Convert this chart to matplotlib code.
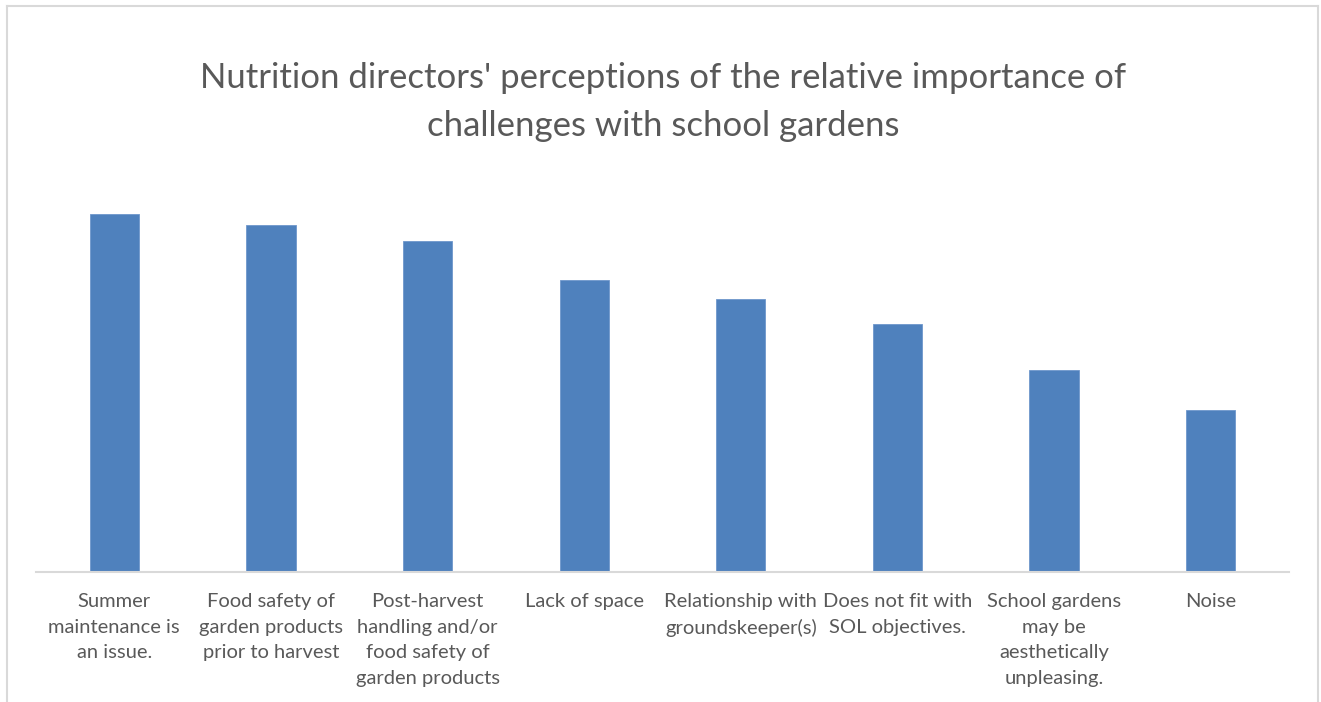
import matplotlib.pyplot as plt
from matplotlib.lines import Line2D

categories = [
    "Summer\nmaintenance is\nan issue.",
    "Food safety of\ngarden products\nprior to harvest",
    "Post-harvest\nhandling and/or\nfood safety of\ngarden products",
    "Lack of space",
    "Relationship with\ngroundskeeper(s)",
    "Does not fit with\nSOL objectives.",
    "School gardens\nmay be\naesthetically\nunpleasing.",
    "Noise",
]
scores = [358, 347, 331, 292, 273, 248, 202, 162]

title = "Nutrition directors' perceptions of the relative importance of\nchallenges with school gardens"

text_col = "#595959"
grid_col = "#D9D9D9"
bar_col = "#4F81BD"

plt.rcParams['font.family'] = ['Lato', 'DejaVu Sans']

W, H = 1321, 702
fig = plt.figure(figsize=(W / 100, H / 100), dpi=100)
ax = fig.add_axes([36 / W, 130 / H, (1289 - 36) / W, 422 / H])

x = range(len(categories))
ax.bar(x, scores, width=0.315, color=bar_col, edgecolor="#6E97CC", linewidth=0.6, zorder=2)
ax.set_xlim(-0.5, len(categories) - 0.5)
ax.set_ylim(0, 422)

ax.set_xticks(list(x))
ax.set_xticklabels(categories, fontsize=14.5, color=text_col, linespacing=1.63, va="top")
ax.tick_params(axis="x", length=0, pad=15)
ax.set_yticks([])
for s in ["top", "right", "left"]:
    ax.spines[s].set_visible(False)
ax.spines["bottom"].set_color(grid_col)
ax.spines["bottom"].set_linewidth(1.5)

fig.text(663 / W, 1 - 102 / H, title, ha="center", va="center", fontsize=25,
         color=text_col, linespacing=1.6)

# chart frame
fig.add_artist(Line2D([7 / W, 7 / W], [0, 1 - 6 / H], color=grid_col, lw=1.5))
fig.add_artist(Line2D([1318 / W, 1318 / W], [0, 1 - 6 / H], color=grid_col, lw=1.5))
fig.add_artist(Line2D([7 / W, 1318 / W], [1 - 6 / H, 1 - 6 / H], color=grid_col, lw=1.5))

fig.savefig("out.png", dpi=100, facecolor="white")
